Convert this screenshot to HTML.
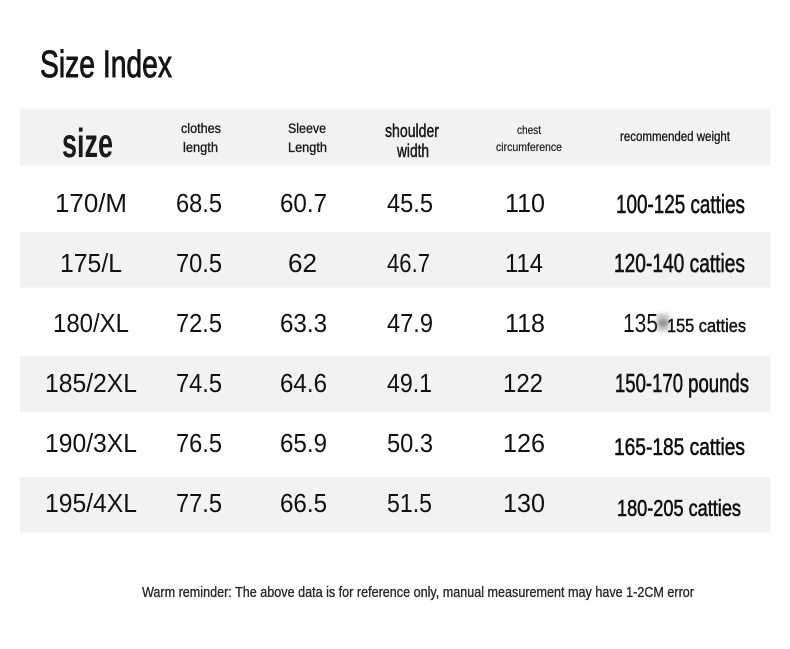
<!DOCTYPE html>
<html>
<head>
<meta charset="utf-8">
<style>
  html,body{margin:0;padding:0;background:#fff;}
  svg{display:block;}
  .c{font-family:"Liberation Sans Narrow","Liberation Sans",sans-serif;}
  .n{font-family:"Liberation Sans","DejaVu Sans",sans-serif;}
</style>
</head>
<body>
<svg width="790" height="649" viewBox="0 0 790 649" xmlns="http://www.w3.org/2000/svg">
  <defs>
    <filter id="bl" x="-50%" y="-50%" width="200%" height="200%">
      <feGaussianBlur stdDeviation="2"/>
    </filter>
  </defs>
  <rect x="0" y="0" width="790" height="649" fill="#ffffff"/>
  <!-- bands -->
  <rect x="20" y="108.5" width="750.5" height="56.5" fill="#f2f2f2"/>
  <rect x="20" y="232" width="750.5" height="55.5" fill="#f2f2f2"/>
  <rect x="20" y="356" width="750.5" height="56" fill="#f2f2f2"/>
  <rect x="20" y="477" width="750.5" height="55.5" fill="#f2f2f2"/>

  <!-- title -->
  <text class="c" x="40" y="77" font-size="38" fill="#151515" stroke="#151515" stroke-width="0.9" textLength="132" lengthAdjust="spacingAndGlyphs">Size Index</text>

  <!-- header -->
  <g fill="#1a1a1a" stroke="#1a1a1a" stroke-width="0.35">
    <text class="c" x="62" y="157" font-size="41" font-weight="bold" stroke-width="0" textLength="51" lengthAdjust="spacingAndGlyphs">size</text>
    <text class="c" x="181" y="133" font-size="14" textLength="40" lengthAdjust="spacingAndGlyphs">clothes</text>
    <text class="c" x="183" y="152" font-size="14" textLength="35" lengthAdjust="spacingAndGlyphs">length</text>
    <text class="c" x="288" y="133" font-size="14" textLength="38" lengthAdjust="spacingAndGlyphs">Sleeve</text>
    <text class="c" x="288" y="152" font-size="14" textLength="39" lengthAdjust="spacingAndGlyphs">Length</text>
    <text class="c" x="385" y="137" font-size="18" stroke-width="0.5" textLength="54" lengthAdjust="spacingAndGlyphs">shoulder</text>
    <text class="c" x="397" y="157" font-size="18" stroke-width="0.5" textLength="32" lengthAdjust="spacingAndGlyphs">width</text>
    <text class="c" x="517" y="134" font-size="12" stroke-width="0.2" textLength="24" lengthAdjust="spacingAndGlyphs">chest</text>
    <text class="c" x="496" y="151" font-size="12" stroke-width="0.2" textLength="66" lengthAdjust="spacingAndGlyphs">circumference</text>
    <text class="c" x="620" y="141" font-size="14" textLength="110" lengthAdjust="spacingAndGlyphs">recommended weight</text>
  </g>

  <!-- data rows -->
  <g class="n" fill="#111" font-size="26">
    <text x="55" y="212" textLength="72" lengthAdjust="spacingAndGlyphs">170/M</text>
    <text x="176" y="212" textLength="46" lengthAdjust="spacingAndGlyphs">68.5</text>
    <text x="280" y="212" textLength="47" lengthAdjust="spacingAndGlyphs">60.7</text>
    <text x="387" y="212" textLength="46" lengthAdjust="spacingAndGlyphs">45.5</text>
    <text x="505" y="212" textLength="40" lengthAdjust="spacingAndGlyphs">110</text>

    <text x="60" y="272" textLength="62" lengthAdjust="spacingAndGlyphs">175/L</text>
    <text x="176" y="272" textLength="46" lengthAdjust="spacingAndGlyphs">70.5</text>
    <text x="288" y="272" textLength="29" lengthAdjust="spacingAndGlyphs">62</text>
    <text x="387" y="272" textLength="43" lengthAdjust="spacingAndGlyphs">46.7</text>
    <text x="505" y="272" textLength="38" lengthAdjust="spacingAndGlyphs">114</text>

    <text x="53" y="332" textLength="76" lengthAdjust="spacingAndGlyphs">180/XL</text>
    <text x="176" y="332" textLength="46" lengthAdjust="spacingAndGlyphs">72.5</text>
    <text x="280" y="332" textLength="47" lengthAdjust="spacingAndGlyphs">63.3</text>
    <text x="387" y="332" textLength="46" lengthAdjust="spacingAndGlyphs">47.9</text>
    <text x="505" y="332" textLength="40" lengthAdjust="spacingAndGlyphs">118</text>

    <text x="45" y="392" textLength="92" lengthAdjust="spacingAndGlyphs">185/2XL</text>
    <text x="176" y="392" textLength="46" lengthAdjust="spacingAndGlyphs">74.5</text>
    <text x="280" y="392" textLength="47" lengthAdjust="spacingAndGlyphs">64.6</text>
    <text x="387" y="392" textLength="45" lengthAdjust="spacingAndGlyphs">49.1</text>
    <text x="503" y="392" textLength="40" lengthAdjust="spacingAndGlyphs">122</text>

    <text x="45" y="452" textLength="92" lengthAdjust="spacingAndGlyphs">190/3XL</text>
    <text x="176" y="452" textLength="46" lengthAdjust="spacingAndGlyphs">76.5</text>
    <text x="280" y="452" textLength="47" lengthAdjust="spacingAndGlyphs">65.9</text>
    <text x="387" y="452" textLength="46" lengthAdjust="spacingAndGlyphs">50.3</text>
    <text x="503" y="452" textLength="42" lengthAdjust="spacingAndGlyphs">126</text>

    <text x="45" y="512" textLength="92" lengthAdjust="spacingAndGlyphs">195/4XL</text>
    <text x="176" y="512" textLength="46" lengthAdjust="spacingAndGlyphs">77.5</text>
    <text x="280" y="512" textLength="47" lengthAdjust="spacingAndGlyphs">66.5</text>
    <text x="387" y="512" textLength="45" lengthAdjust="spacingAndGlyphs">51.5</text>
    <text x="503" y="512" textLength="42" lengthAdjust="spacingAndGlyphs">130</text>
  </g>

  <!-- weight column -->
  <g class="c" fill="#111" stroke="#111" stroke-width="0.6">
    <text x="616" y="213" font-size="26" textLength="129" lengthAdjust="spacingAndGlyphs">100-125 catties</text>
    <text x="614" y="272" font-size="26" textLength="131" lengthAdjust="spacingAndGlyphs">120-140 catties</text>
    <text class="n" x="623" y="332" font-size="26" stroke-width="0" textLength="35" lengthAdjust="spacingAndGlyphs">135</text>
    <rect x="657" y="314" width="12" height="17" fill="#8a8a8a" stroke="none" opacity="0.55" filter="url(#bl)"/>
    <rect x="659" y="321" width="8" height="4" fill="#444" stroke="none" opacity="0.6" filter="url(#bl)"/>
    <text x="667" y="332" font-size="18" stroke-width="0.45" textLength="79" lengthAdjust="spacingAndGlyphs">155 catties</text>
    <text x="615" y="392" font-size="26" textLength="134" lengthAdjust="spacingAndGlyphs">150-170 pounds</text>
    <text x="614" y="455" font-size="24" textLength="131" lengthAdjust="spacingAndGlyphs">165-185 catties</text>
    <text x="617" y="516" font-size="23" textLength="124" lengthAdjust="spacingAndGlyphs">180-205 catties</text>
  </g>

  <!-- footer -->
  <text class="c" x="142" y="597" font-size="15" fill="#2a2a2a" stroke="#2a2a2a" stroke-width="0.35" textLength="552" lengthAdjust="spacingAndGlyphs">Warm reminder: The above data is for reference only, manual measurement may have 1-2CM error</text>
</svg>
</body>
</html>
